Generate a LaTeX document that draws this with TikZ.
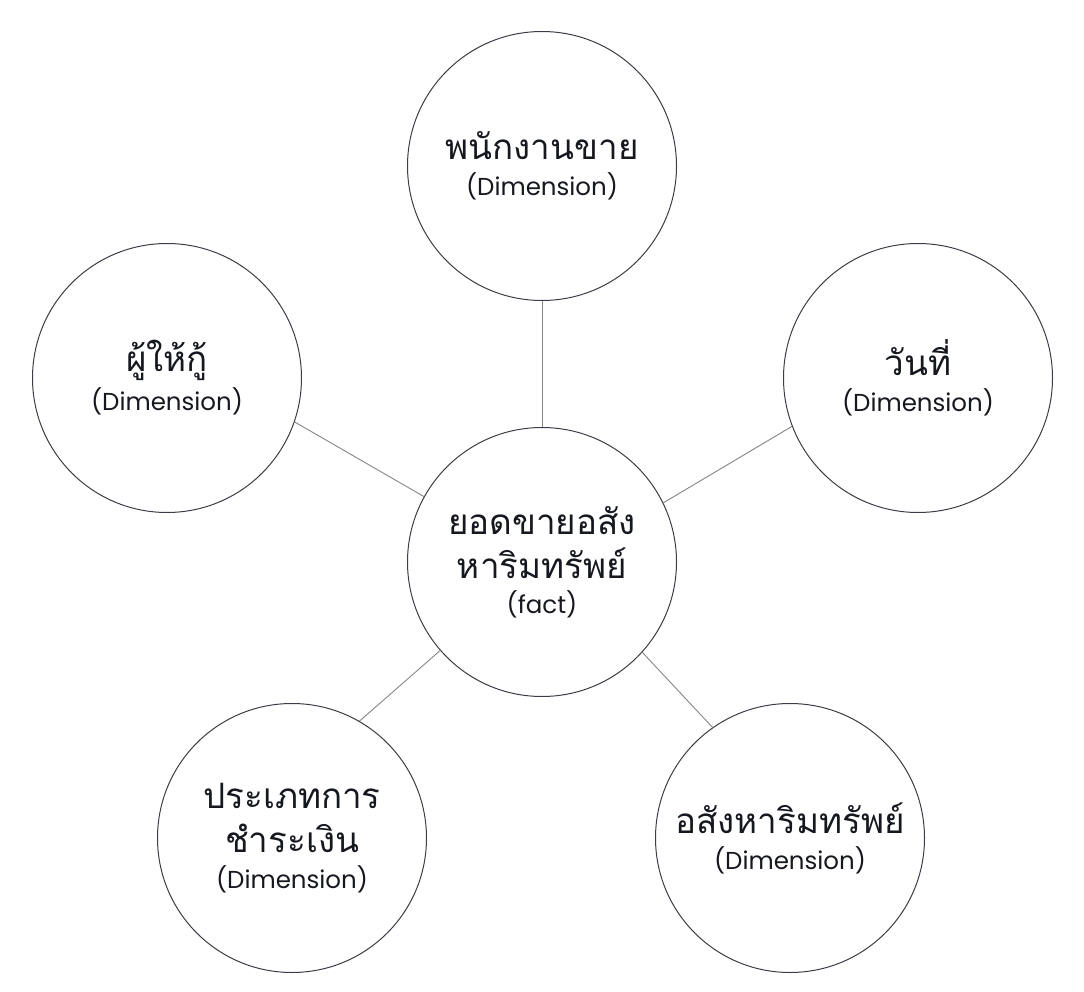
\documentclass[tikz,border=0pt]{standalone}
\usepackage{fontspec}
\setmainfont{Poppins}
\newfontfamily\thaifont[Script=Thai]{Loma}
\usetikzlibrary{positioning}
\definecolor{ringgray}{HTML}{3A3D45}
\definecolor{inkblack}{HTML}{16181F}
\definecolor{linkgray}{HTML}{858585}
\newcommand\thaiword[1]{{\thaifont\fontsize{35}{40}\selectfont #1}}

\begin{document}
\begin{tikzpicture}[x=1pt,y=-1pt,node distance=2cm,on grid,
    table/.style={circle,draw=ringgray,line width=1pt,minimum size=269pt,inner sep=0pt,
      align=center,text=inkblack,font=\fontsize{24.5}{30}\selectfont}]
  \useasboundingbox (0,0) rectangle (1084,992);

  \node[table]          (0) at (542,562)                  {\thaiword{ยอดขายอสัง}\\[12pt]\thaiword{หาริมทรัพย์}\\[5pt](fact)};
  \node[table]          (1) [above =396pt of 0]           {\thaiword{พนักงานขาย}\\[6pt](Dimension)};
  \node[table]          (2) [above left =184pt and 375pt of 0]  {\thaiword{ผู้ให้กู้}\\[6pt](Dimension)};
  \node[table]          (3) [above right =184pt and 376pt of 0] {\thaiword{วันที่}\\[6pt](Dimension)};
  \node[table]          (4) [below left =276pt and 250pt of 0]  {\thaiword{ประเภทการ}\\[14pt]\thaiword{ชำระเงิน}\\[6pt](Dimension)};
  \node[table]          (5) [below right =276pt and 248pt of 0] {\thaiword{อสังหาริมทรัพย์}\\[6pt](Dimension)};

  \tikzset{linkline/.style={-,draw=linkgray,line width=0.9pt}}
  \path (0.90)  edge [linkline] (1.270)
        (0.151) edge [linkline] (2.341)
        (0.26)  edge [linkline] (3.201)
        (0.221) edge [linkline] (4.60)
        (0.318) edge [linkline] (5.125);

\end{tikzpicture}
\end{document}
